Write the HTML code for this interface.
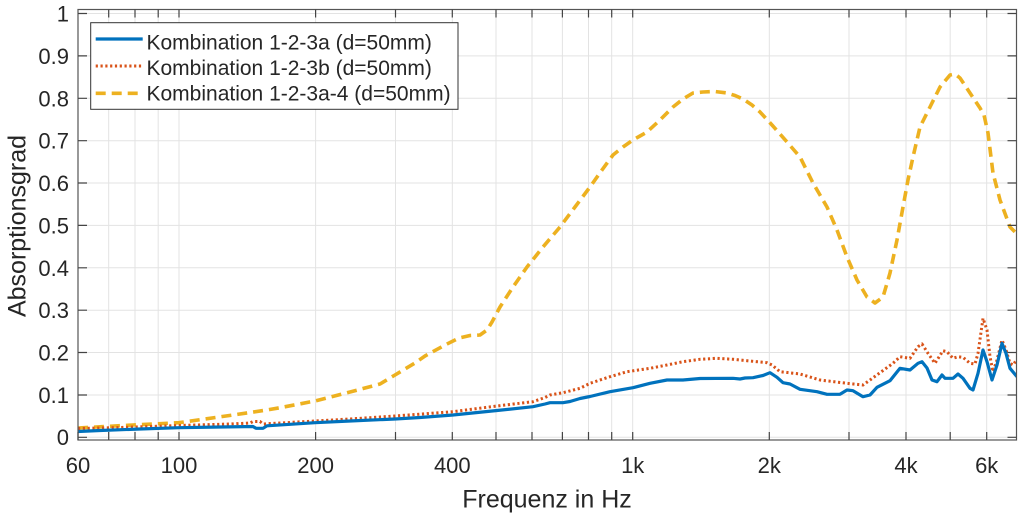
<!DOCTYPE html>
<html>
<head>
<meta charset="utf-8">
<style>
html,body{margin:0;padding:0;background:#fff;}
svg{display:block;}
text{font-family:"Liberation Sans",Arial,sans-serif;fill:#262626;}
</style>
</head>
<body>
<svg width="1024" height="519" viewBox="0 0 1024 519" xmlns="http://www.w3.org/2000/svg">
<defs>
<clipPath id="pa"><rect x="78" y="9.5" width="938.5" height="430.5"/></clipPath>
</defs>
<rect x="0" y="0" width="1024" height="519" fill="#fff"/>
<!-- grid -->
<g stroke="#e3e3e3" stroke-width="1" fill="none">
<!-- horizontal 0..1 -->
<path d="M78 437.3H1016.5M78 395H1016.5M78 352.5H1016.5M78 310.2H1016.5M78 267.8H1016.5M78 225.4H1016.5M78 183H1016.5M78 140.7H1016.5M78 98.3H1016.5M78 55.9H1016.5M78 13.5H1016.5"/>
<!-- vertical -->
<path d="M108.7 9.5V440M135 9.5V440M158.2 9.5V440M179 9.5V440M315.6 9.5V440M395.5 9.5V440M452.3 9.5V440M496 9.5V440M532 9.5V440M562.4 9.5V440M588.5 9.5V440M611.7 9.5V440M632.7 9.5V440M769.3 9.5V440M849 9.5V440M906 9.5V440M950.2 9.5V440M986.7 9.5V440"/>
</g>
<!-- series -->
<g clip-path="url(#pa)" fill="none" stroke-linejoin="round">
<polyline stroke="#EDB120" stroke-width="3.6" stroke-dasharray="10 6" points="78,428 133,425 179,422.7 233,415 267,410 280,407.7 315,401 350,392 380,384 395,375 415,363 425,356 445,345 459,338 470,335.5 480,335 487,330 492,322 500,307 513,287 527,267 543,247 560,227 575,207 590,187 602,170 613,155 623,147 633,140 640,136 647,132 660,120 673,107 683,99 693,93 703,92 715,91.5 727,93 735,95.5 743,99 752,105 760,112 772,125 787,142 800,157 813,183 827,207 837,230 847,257 857,280 867,297 875,303 883,297 890,273 897,240 903,207 908,180 913,157 920,127 930,107 940,87 950,75 955,74 960,78 970,93 980,108 984,115 988,133 993,173 1000,200 1010,227 1017,234"/>
<polyline stroke="#D95319" stroke-width="3" stroke-dasharray="2.2 2.6" points="78,428.5 120,427.5 179,425.5 230,424 250,423 253,421.5 260,421.5 263,424 315,421 350,419 395,416 453,411.7 497,406 533,401.7 545,397.5 550,395 563,392.7 580,388.3 590,383.3 610,376.7 627,371.7 650,368.3 667,365 683,361.7 700,359.3 717,358.3 733,359.3 750,361 767,362.7 772,365 780,371.7 800,374 820,380 847,383.3 863,385 870,380 880,372.7 893,363.3 900,356.7 910,358.3 918,346.7 922,344 928,353.3 935,363.3 943,350.7 947,351.7 953,358.3 958,356.7 963,357.3 970,363.3 975,364 978,353.3 983,318.3 987,330 990,356.7 993,371.7 997,360 1002,340 1006,350 1010,363.3 1013,365 1017,359.3"/>
<polyline stroke="#0072BD" stroke-width="3.2" points="78,431.5 100,430.5 140,429 179,427.7 220,427 253,426.5 256,428.3 263,428.3 267,425.8 315,422.7 350,421 395,419 420,417.5 453,415 497,410.5 533,406.7 545,404 550,402.7 563,402.7 570,401.5 580,398.5 590,396.5 610,391.7 633,387.7 650,383.3 667,380 683,380 700,378.5 733,378.3 740,379 745,378 753,377.7 763,375.5 770,372.7 777,377.3 783,382.7 790,384 800,389.3 817,391.7 827,394.3 840,394.3 847,390 853,390.7 863,396.7 870,395 877,387.3 890,380.7 900,368.3 910,370 918,363.3 922,361.7 927,368 932,380 937,381.7 942,375 945,378.3 953,378.3 958,374 963,378.3 970,388.3 973,390 978,373.3 983,350 987,361.7 992,380 997,365 1002,343.3 1006,353.3 1010,368.3 1017,376.7"/>
</g>
<!-- axes box -->
<rect x="78" y="9.5" width="938.5" height="430.5" fill="none" stroke="#555" stroke-width="1.2"/>
<!-- ticks -->
<g stroke="#444" stroke-width="1.2" fill="none">
<path d="M78 440v-8M108.7 440v-8M135 440v-8M158.2 440v-8M179 440v-8M315.6 440v-8M395.5 440v-8M452.3 440v-8M496 440v-8M532 440v-8M562.4 440v-8M588.5 440v-8M611.7 440v-8M632.7 440v-8M769.3 440v-8M849 440v-8M906 440v-8M950.2 440v-8M986.7 440v-8"/>
<path d="M108.7 9.5v8M135 9.5v8M158.2 9.5v8M179 9.5v8M315.6 9.5v8M395.5 9.5v8M452.3 9.5v8M496 9.5v8M532 9.5v8M562.4 9.5v8M588.5 9.5v8M611.7 9.5v8M632.7 9.5v8M769.3 9.5v8M849 9.5v8M906 9.5v8M950.2 9.5v8M986.7 9.5v8"/>
<path d="M78 437.3h9M78 395h9M78 352.5h9M78 310.2h9M78 267.8h9M78 225.4h9M78 183h9M78 140.7h9M78 98.3h9M78 55.9h9M78 13.5h9"/>
<path d="M1016.5 437.3h-9M1016.5 395h-9M1016.5 352.5h-9M1016.5 310.2h-9M1016.5 267.8h-9M1016.5 225.4h-9M1016.5 183h-9M1016.5 140.7h-9M1016.5 98.3h-9M1016.5 55.9h-9M1016.5 13.5h-9"/>
</g>
<!-- y tick labels -->
<g font-size="22" text-anchor="end">
<text x="69" y="445">0</text>
<text x="69" y="403">0.1</text>
<text x="69" y="360.5">0.2</text>
<text x="69" y="318">0.3</text>
<text x="69" y="275.8">0.4</text>
<text x="69" y="233.4">0.5</text>
<text x="69" y="191">0.6</text>
<text x="69" y="148.7">0.7</text>
<text x="69" y="106.3">0.8</text>
<text x="69" y="63.9">0.9</text>
<text x="69" y="21.5">1</text>
</g>
<!-- x tick labels -->
<g font-size="22" text-anchor="middle">
<text x="78" y="473">60</text>
<text x="179" y="473">100</text>
<text x="315.6" y="473">200</text>
<text x="452.3" y="473">400</text>
<text x="632.7" y="473">1k</text>
<text x="769.3" y="473">2k</text>
<text x="906" y="473">4k</text>
<text x="986.7" y="473">6k</text>
</g>
<!-- axis labels -->
<text x="547" y="507.5" font-size="25" text-anchor="middle">Frequenz in Hz</text>
<text transform="translate(25.5,226) rotate(-90)" font-size="25" text-anchor="middle">Absorptionsgrad</text>
<!-- legend -->
<rect x="90.7" y="22.7" width="367.3" height="86.6" fill="#fff" stroke="#333" stroke-width="1"/>
<line x1="95.7" y1="39" x2="142.7" y2="39" stroke="#0072BD" stroke-width="3.2"/>
<line x1="95.7" y1="66" x2="142.7" y2="66" stroke="#D95319" stroke-width="3" stroke-dasharray="2.2 2.6"/>
<line x1="95.7" y1="93.3" x2="142.7" y2="93.3" stroke="#EDB120" stroke-width="3.6" stroke-dasharray="10 6"/>
<g font-size="21">
<text x="146.5" y="49.5">Kombination 1-2-3a (d=50mm)</text>
<text x="146.5" y="75">Kombination 1-2-3b (d=50mm)</text>
<text x="146.5" y="100.5">Kombination 1-2-3a-4 (d=50mm)</text>
</g>
</svg>
</body>
</html>
